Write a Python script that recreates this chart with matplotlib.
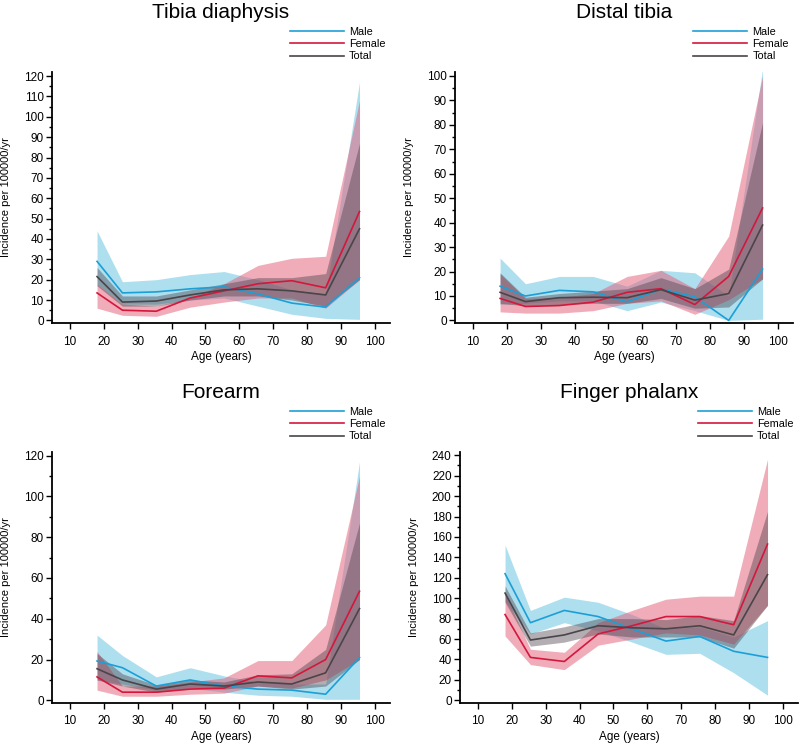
import matplotlib
matplotlib.use("Agg")
import matplotlib.pyplot as plt
from matplotlib.ticker import MultipleLocator

plt.rcParams['font.family'] = ['Liberation Sans', 'DejaVu Sans']

# age groups (midpoints as plotted)
ages = [18, 25.5, 35.5, 45.5, 55.5, 65.5, 75.5, 85.5, 95.5]

# Tibia diaphysis
tib_male = [29, 13.5, 14, 15.5, 16.5, 13, 8.5, 6.5, 21]
tib_male_lo = [18, 8, 8, 10, 11, 7, 3, 1, 0.5]
tib_male_hi = [44, 19, 20, 22.5, 24, 20, 15, 13, 117]
tib_female = [13.5, 5, 4.5, 11, 14.5, 18, 19.5, 16, 53.5]
tib_female_lo = [6, 2.5, 2, 6.5, 9, 11, 11, 6, 20]
tib_female_hi = [18, 8, 7, 11, 18, 27, 30.5, 31.5, 108]
tib_total = [21.5, 9, 9.5, 12.5, 15, 15.5, 14.5, 12.5, 45]
tib_total_lo = [17, 7, 7, 10, 12, 12, 10, 7, 20]
tib_total_hi = [26, 12, 12, 15, 18, 21, 21, 23, 87]

# Distal tibia
dt_male = [14, 10, 12.3, 11.7, 7.6, 12.8, 9.7, 0, 21]
dt_male_lo = [6.5, 7, 8, 8, 4, 7.5, 4, 0, 0.5]
dt_male_hi = [25.5, 15, 18, 18, 14, 20.5, 19.5, 10, 103]
dt_female = [9, 5.7, 6.1, 7.5, 11.5, 13, 6.5, 18, 46]
dt_female_lo = [3.5, 3, 3, 4, 7, 8, 2.5, 8.5, 17]
dt_female_hi = [19, 9, 9.5, 11, 18, 20.5, 13, 34.5, 100]
dt_total = [11.5, 7.7, 9.3, 9.5, 9.3, 12.6, 8.3, 11, 39]
dt_total_lo = [7, 6, 6.5, 7, 7, 9, 5, 5.5, 17]
dt_total_hi = [19.5, 9.5, 11, 12, 13, 17.5, 13, 21, 81]

# Forearm
fa_male = [19.3, 16, 7, 10, 7, 5.5, 5, 3, 21]
fa_male_lo = [10, 8, 5, 6, 4, 2.5, 2, 0.5, 0.5]
fa_male_hi = [32, 22, 11.5, 16, 12, 9, 8, 8, 117]
fa_female = [11.5, 4, 4, 5.5, 6, 12, 11, 20, 53.5]
fa_female_lo = [5, 2, 2, 3, 3.5, 7, 6, 10, 20]
fa_female_hi = [24, 7, 7, 9, 11, 19.5, 19.5, 37, 110]
fa_total = [15.5, 10, 5.5, 8, 7, 9, 8, 13.5, 45]
fa_total_lo = [10, 7, 4, 6, 5.5, 7, 5.5, 7, 20]
fa_total_hi = [23, 13, 7.5, 10, 9, 12.5, 13, 25, 87]

# Finger phalanx
fp_male = [124, 76, 88, 82, 70, 58, 62.5, 48, 42]
fp_male_lo = [97, 65, 76, 68, 57, 45, 46, 27, 5]
fp_male_hi = [152, 88, 101, 96, 84, 70, 72, 62, 78]
fp_female = [84, 42, 38, 65, 73, 82, 82, 74, 153]
fp_female_lo = [63, 35, 30, 54, 60, 66, 64, 55, 93]
fp_female_hi = [104, 50, 47, 76, 88, 99, 102, 102, 236]
fp_total = [105, 59, 64, 73, 71, 70, 73, 64, 123]
fp_total_lo = [96, 53, 57, 65, 62, 62, 62, 51, 93]
fp_total_hi = [112, 66, 72, 80, 80, 79, 83, 78, 185]

line_col = {'Male': '#1c9fd6', 'Female': '#d4173d', 'Total': '#4a4548'}
fill_col = {'Male': '#5cc1e0', 'Female': '#e35a74', 'Total': '#4a4048'}
fill_alpha = {'Male': 0.5, 'Female': 0.5, 'Total': 0.42}

panels = [
    ("Tibia diaphysis", [0.065, 0.5664, 0.4225, 0.3369], (-1.3, 122), 10, 5,
     [(tib_male, tib_male_lo, tib_male_hi), (tib_female, tib_female_lo, tib_female_hi),
      (tib_total, tib_total_lo, tib_total_hi)]),
    ("Distal tibia", [0.5688, 0.5664, 0.4225, 0.3369], (-1.06, 101.6), 10, 5,
     [(dt_male, dt_male_lo, dt_male_hi), (dt_female, dt_female_lo, dt_female_hi),
      (dt_total, dt_total_lo, dt_total_hi)]),
    ("Forearm", [0.065, 0.0564, 0.4225, 0.3369], (-1.3, 121.8), 20, 10,
     [(fa_male, fa_male_lo, fa_male_hi), (fa_female, fa_female_lo, fa_female_hi),
      (fa_total, fa_total_lo, fa_total_hi)]),
    ("Finger phalanx", [0.575, 0.0564, 0.4225, 0.3369], (-2.65, 243.2), 20, 10,
     [(fp_male, fp_male_lo, fp_male_hi), (fp_female, fp_female_lo, fp_female_hi),
      (fp_total, fp_total_lo, fp_total_hi)]),
]

fig = plt.figure(figsize=(8, 7.45), dpi=100)

for title, rect, ylim, major, minor, series in panels:
    ax = fig.add_axes(rect)
    names = ['Male', 'Female', 'Total']
    # bands first, then the lines on top
    for name, (mid, lo, hi) in zip(names, series):
        ax.fill_between(ages, lo, hi, color=fill_col[name], alpha=fill_alpha[name], lw=0)
    for name, (mid, lo, hi) in zip(names, series):
        ax.plot(ages, mid, color=line_col[name], lw=1.2, label=name)

    ax.set_xlim(4.7, 104.5)
    ax.set_xticks(range(10, 101, 10))
    ax.yaxis.set_major_locator(MultipleLocator(major))
    ax.yaxis.set_minor_locator(MultipleLocator(minor))
    ax.set_ylim(*ylim)
    for s in ['top', 'right']:
        ax.spines[s].set_visible(False)
    for s in ['left', 'bottom']:
        ax.spines[s].set_linewidth(1.3)
    ax.tick_params(axis='both', which='major', length=4, width=1, labelsize=8.5, pad=2)
    ax.tick_params(axis='y', which='minor', length=2.5, width=1)
    ax.tick_params(axis='x', pad=5)

    ax.set_xlabel("Age (years)", fontsize=8.5, labelpad=2.5)
    ax.set_ylabel("Incidence per 100000/yr", fontsize=8)
    ax.yaxis.set_label_coords(-0.12, 0.5)
    ax.set_title(title, fontsize=15, pad=39)
    ax.legend(loc='lower right', bbox_to_anchor=(1.0, 1.025), frameon=False,
              fontsize=7.8, handlelength=5.0, borderaxespad=0, labelspacing=0.2,
              handletextpad=0.5)

fig.savefig("out.png", dpi=100)
